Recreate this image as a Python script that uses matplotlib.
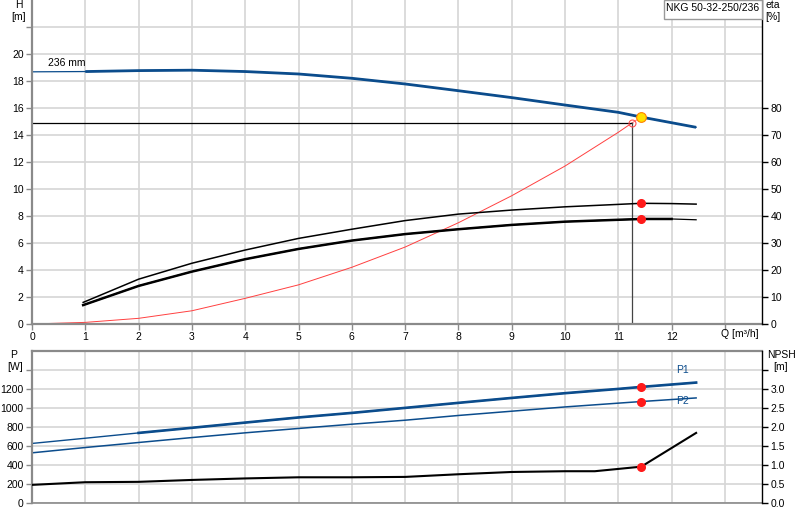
import numpy as np
import matplotlib
matplotlib.use("Agg")
import matplotlib.pyplot as plt
from matplotlib.patches import Rectangle

plt.rcParams['font.family'] = ['Liberation Sans', 'DejaVu Sans']
plt.rcParams['font.size'] = 7.5

# pump curve H(Q)
q_h = [0, 1, 2, 3, 4, 5, 6, 7, 8, 9, 10, 11, 11.43, 12.46]
h = [18.68, 18.7, 18.77, 18.8, 18.7, 18.52, 18.2, 17.78, 17.28, 16.77, 16.22, 15.68, 15.33, 14.57]

# efficiency curves
q_eta = [0.96, 2, 3, 4, 5, 6, 7, 8, 9, 10, 11, 11.43, 12, 12.46]
eta_up = [8.0, 16.6, 22.5, 27.4, 31.7, 35.1, 38.3, 40.7, 42.2, 43.4, 44.3, 44.7, 44.6, 44.4]
eta_lo = [7.0, 14.1, 19.4, 24.0, 27.8, 30.9, 33.3, 35.1, 36.7, 37.9, 38.6, 38.9, 38.9, 38.6]

# system curve
q_sys = [0, 1, 2, 3, 4, 5, 6, 7, 8, 9, 10, 11, 11.26]
h_sys = [0, 0.12, 0.42, 0.98, 1.9, 2.9, 4.2, 5.7, 7.5, 9.5, 11.7, 14.2, 14.9]

# power and npsh
q_p = [0, 1, 2, 3, 4, 5, 6, 7, 8, 9, 10, 11, 11.43, 12.46]
p1 = [625, 680, 736, 790, 845, 899, 947, 1000, 1053, 1105, 1155, 1200, 1221, 1267]
p2 = [526, 582, 635, 687, 737, 783, 828, 870, 920, 965, 1010, 1050, 1067, 1105]
q_npsh = [0, 1, 2, 3, 4, 5, 6, 7, 8, 9, 10, 10.56, 11.43, 12.46]
npsh = [0.47, 0.54, 0.55, 0.6, 0.64, 0.67, 0.67, 0.68, 0.75, 0.81, 0.83, 0.83, 0.95, 1.84]

q_op, h_op = 11.26, 14.9
q_duty, h_duty = 11.43, 15.33
i_duty = 12

blue = '#0b4c8c'
gridc = '#d6d6d6'
grayc = '#8a8a8a'

W, H = 800, 520
fig = plt.figure(figsize=(8, 5.2), dpi=100)

def fx(px):
    return px / W

def fy(py):
    return 1 - py / H

ax = fig.add_axes([fx(32), fy(324), fx(762 - 32), fy(0) - fy(324)])
ax2 = ax.twinx()
bx = fig.add_axes([fx(32), fy(502.7), fx(762 - 32), fy(351) - fy(502.7)])
bx2 = bx.twinx()

xmax = (762 - 32) / 53.3

for a in (ax, bx):
    a.set_xlim(0, xmax)
    a.set_xticks(range(0, 14))
    a.grid(True, color=gridc, lw=1.2)
    a.set_axisbelow(True)
    a.spines['left'].set_color(grayc)
    a.spines['left'].set_linewidth(1.6)
    a.spines['right'].set_visible(False)
    a.tick_params(axis='y', colors=grayc, length=4, width=1, pad=2, labelcolor='black')

for a in (ax2, bx2):
    a.spines['right'].set_color('black')
    a.spines['right'].set_linewidth(1.0)
    for s in ('left', 'top', 'bottom'):
        a.spines[s].set_visible(False)
    a.tick_params(axis='y', colors='black', length=4, width=1, pad=2)

# top panel
ax.set_ylim(0, 24)
ax.set_yticks(range(0, 24, 2))
ax.set_yticklabels([str(v) for v in range(0, 22, 2)] + [''])
ax.set_xticklabels([str(v) for v in range(0, 13)] + [''])
ax.spines['top'].set_visible(False)
ax.spines['bottom'].set_color(grayc)
ax.spines['bottom'].set_linewidth(1.6)
ax.tick_params(axis='x', colors=grayc, length=4, width=1, pad=2, labelcolor='black')

ax2.set_ylim(0, 120)
ax2.set_yticks(range(0, 90, 10))

qh = np.array(q_h)
hh = np.array(h)
ax.plot(qh, hh, color=blue, lw=0.9)
ax.plot(qh[qh >= 1], hh[qh >= 1], color=blue, lw=2.0, solid_capstyle='butt',
        solid_joinstyle='round')
ax.text(0.3, 19.35, '236 mm', fontsize=7.5, va='center')

ax.plot(q_sys, h_sys, color='#ff4040', lw=0.7)
ax.plot([q_op, q_duty], [h_op, h_duty], color='#ff7070', lw=0.7)
ax.plot([0, q_op], [h_op, h_op], color='black', lw=0.9)
ax.plot([q_op, q_op], [h_op, 0], color='#444444', lw=0.9)
ax.plot([q_op], [h_op], 'o', ms=5, mfc='none', mec='#ff5050', mew=0.8)
ax.plot([q_duty], [h_duty], 'o', ms=7, mfc='#ffe000', mec='#ff8000', mew=0.8, zorder=5)

qe = np.array(q_eta)
ax2.plot(qe, eta_up, color='black', lw=1.1, solid_joinstyle='round')
ax2.plot(qe, eta_lo, color='black', lw=0.9)
m = qe <= 12
ax2.plot(qe[m], np.array(eta_lo)[m], color='black', lw=1.8, solid_joinstyle='round')
ax2.plot([q_eta[11]], [eta_up[11]], 'o', ms=5.5, color='#ff1a1a')
ax2.plot([q_eta[11]], [eta_lo[11]], 'o', ms=5.5, color='#ff1a1a')

# bottom panel
bx.set_ylim(0, 1600)
bx.set_yticks(range(0, 1600, 200))
bx.set_yticklabels([str(v) for v in range(0, 1400, 200)] + [''])
bx.tick_params(axis='x', length=0, labelbottom=False)
bx.spines['top'].set_color(grayc)
bx.spines['top'].set_linewidth(1.6)
bx.spines['bottom'].set_color(grayc)
bx.spines['bottom'].set_linewidth(1.2)

bx2.set_ylim(0, 4.0)
bx2.set_yticks(np.arange(0, 4.0, 0.5))
bx2.set_yticklabels(['%.1f' % v for v in np.arange(0, 3.5, 0.5)] + [''])

qp = np.array(q_p)
bx.plot(qp, p1, color=blue, lw=1.0)
bx.plot(qp[qp >= 1.2], np.array(p1)[qp >= 1.2], color=blue, lw=1.9)
bx.plot(qp, p2, color=blue, lw=1.1)
bx.plot([q_p[i_duty]], [p1[i_duty]], 'o', ms=5.5, color='#ff1a1a')
bx.plot([q_p[i_duty]], [p2[i_duty]], 'o', ms=5.5, color='#ff1a1a')
bx.text(12.2, 1395, 'P1', color=blue, fontsize=7.5, ha='center', va='center')
bx.text(12.2, 1070, 'P2', color=blue, fontsize=7.5, ha='center', va='center')

bx2.plot(q_npsh, npsh, color='black', lw=1.5)
bx2.plot([q_npsh[12]], [npsh[12]], 'o', ms=5.5, color='#ff1a1a')

# axis titles
fig.text(fx(19), fy(5), 'H', ha='center', va='center', fontsize=7.5)
fig.text(fx(19), fy(17), '[m]', ha='center', va='center', fontsize=7.5)
fig.text(fx(773), fy(5), 'eta', ha='center', va='center', fontsize=7.5)
fig.text(fx(773), fy(17), '[%]', ha='center', va='center', fontsize=7.5)
fig.text(fx(14), fy(355), 'P', ha='center', va='center', fontsize=7.5)
fig.text(fx(15), fy(367), '[W]', ha='center', va='center', fontsize=7.5)
fig.text(fx(781), fy(355), 'NPSH', ha='center', va='center', fontsize=7.5)
fig.text(fx(781), fy(367), '[m]', ha='center', va='center', fontsize=7.5)
fig.text(fx(739.5), fy(334), 'Q [m³/h]', ha='center', va='center', fontsize=7.5)

# title box
fig.patches.append(Rectangle((fx(664), fy(19)), fx(762 - 664), fy(0) - fy(19),
                             transform=fig.transFigure, facecolor='white',
                             edgecolor='#999999', lw=1.0, zorder=10))
fig.text(fx(712.5), fy(8), 'NKG 50-32-250/236', ha='center', va='center', fontsize=7.5, zorder=11)

fig.savefig('out.png', dpi=100)
